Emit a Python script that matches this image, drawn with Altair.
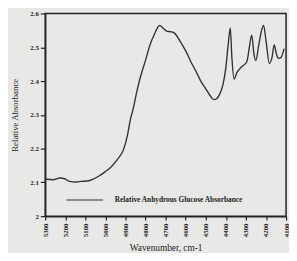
import altair as alt
import pandas as pd

wavenumber = [5300, 5260, 5227, 5200, 5183, 5144, 5120, 5090, 5060, 5032, 5000, 4973, 4940,
              4910, 4890, 4876, 4861, 4845, 4827, 4800, 4778, 4755, 4740, 4729, 4715,
              4695, 4675, 4656, 4630, 4598, 4575, 4549, 4525, 4500, 4480, 4461, 4445,
              4430, 4415, 4400, 4388, 4378, 4370, 4359, 4345, 4330, 4320, 4295, 4283,
              4271, 4260, 4251, 4235, 4222, 4212, 4200, 4183, 4170, 4159, 4148, 4139,
              4125, 4110]
absorbance = [2.110, 2.108, 2.113, 2.110, 2.104, 2.101, 2.103, 2.104, 2.110, 2.119, 2.132,
              2.145, 2.168, 2.197, 2.240, 2.285, 2.320, 2.365, 2.409, 2.462, 2.507, 2.540,
              2.558, 2.565, 2.558, 2.548, 2.546, 2.542, 2.520, 2.487, 2.458, 2.429, 2.400,
              2.377, 2.358, 2.345, 2.348, 2.362, 2.388, 2.440, 2.510, 2.557, 2.470, 2.406,
              2.425, 2.437, 2.443, 2.458, 2.500, 2.536, 2.480, 2.461, 2.510, 2.550, 2.565,
              2.520, 2.452, 2.470, 2.507, 2.480, 2.467, 2.470, 2.496]
series_name = "Relative Anhydrous Glucose Absorbance"
x_ticks = list(range(4100, 5301, 100))
y_ticks = [2.0, 2.1, 2.2, 2.3, 2.4, 2.5, 2.6]

df = pd.DataFrame({"wn": wavenumber, "abs": absorbance, "series": series_name})

font = "Liberation Serif"

chart = alt.Chart(df).mark_line(strokeWidth=1.4, interpolate="monotone").encode(
    x=alt.X("wn:Q",
            scale=alt.Scale(domain=[4100, 5300], reverse=True, nice=False, zero=False),
            axis=alt.Axis(values=x_ticks, format="d", labelAngle=270, title="Wavenumber, cm-1",
                          grid=False, tickSize=4, labelFontSize=7, labelFontWeight="bold",
                          labelAlign="right", labelBaseline="middle", labelPadding=3,
                          titleFontSize=9.5, titleFontWeight="normal", titlePadding=6)),
    y=alt.Y("abs:Q",
            scale=alt.Scale(domain=[2.0, 2.6], nice=False, zero=False),
            axis=alt.Axis(values=y_ticks, format=".1~f", title="Relative Absorbance",
                          grid=False, tickSize=5, labelFontSize=7, labelFontWeight="bold",
                          labelPadding=2, titleFontSize=9, titleFontWeight="normal",
                          titlePadding=11)),
    color=alt.Color("series:N", scale=alt.Scale(range=["#333333"]),
                    legend=alt.Legend(title=None, orient="none", legendX=21, legendY=171,
                                      symbolType="stroke", symbolSize=1400,
                                      symbolStrokeWidth=1.2, labelFontSize=7.5,
                                      labelFontWeight="bold", labelFont=font,
                                      labelColor="#222222",
                                      labelOffset=11, labelLimit=300)),
).properties(
    width=246, height=207,
    autosize=alt.AutoSizeParams(type="none"),
    padding={"left": 38, "top": 3, "right": 3, "bottom": 35},
    background="#e8e8e6",
).configure_axis(
    labelFont=font, titleFont=font, domainColor="#222222", tickColor="#222222",
    labelColor="#222222", titleColor="#222222", domainWidth=1.5, tickWidth=1.2,
).configure_view(
    stroke="#222222", strokeWidth=1.5,
)

chart.save("out.html", embed_options={"renderer": "svg", "actions": False})
